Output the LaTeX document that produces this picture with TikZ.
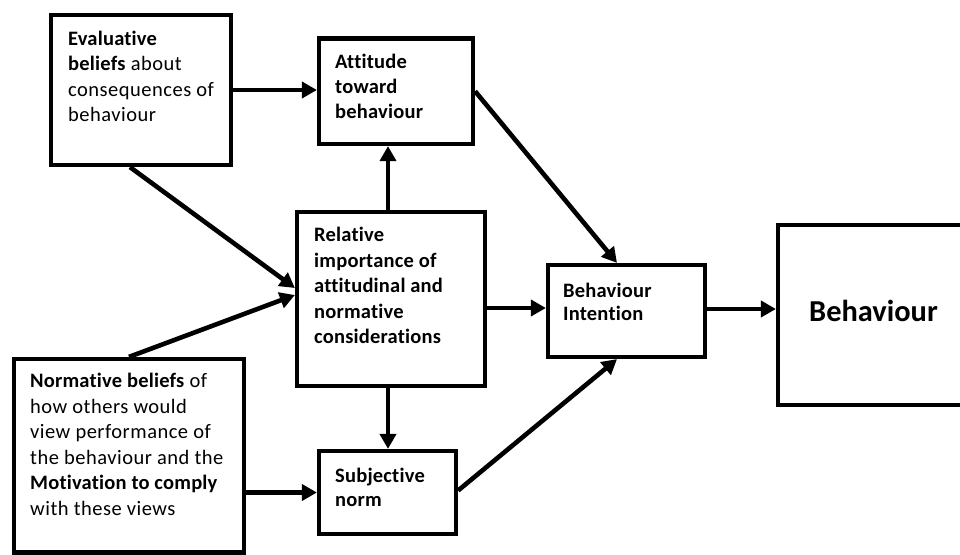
\documentclass[tikz,border=0pt]{standalone}
\usepackage{fontspec}
\setmainfont[Ligatures=CommonOff]{Carlito}
\newfontfamily\lsfont[LetterSpace=2.4,Ligatures=CommonOff,BoldFeatures={LetterSpace=1.0}]{Carlito}
\usetikzlibrary{arrows.meta}
\begin{document}
\begin{tikzpicture}[x=1pt,y=-1pt,
  box/.style={draw, line width=4.2pt, inner sep=0pt, fill=white},
  arr/.style={line width=4.6pt, -{Triangle[length=15pt,width=16pt]}},
  txt/.style={anchor=base west, align=left, inner sep=0pt, font=\lsfont\fontsize{20.5}{25.5}\selectfont},
  txtb/.style={anchor=base west, align=left, inner sep=0pt, font=\lsfont\fontsize{20.5}{23.6}\selectfont\bfseries},
]
\useasboundingbox[fill=white] (0,0) rectangle (960,554);

% boxes
\node[box, minimum width=180pt, minimum height=150pt] (b1) at (141,90) {};
\node[box, minimum width=154pt, minimum height=105.5pt] (b2) at (396,91.25) {};
\node[box, minimum width=188pt, minimum height=174pt] (b3) at (391,299) {};
\node[box, minimum width=157pt, minimum height=92pt] (b4) at (626.5,311) {};
\node[box, minimum width=190pt, minimum height=180pt] (b5) at (873,315) {};
\node[box, minimum width=230pt, minimum height=193.5pt] (b6) at (129,455.75) {};
\node[box, minimum width=137pt, minimum height=83pt] (b7) at (387.5,492.5) {};

% texts (anchored at the baseline of their last line)
\node[txt] (t1) at (68,121.5) {\textbf{Evaluative}\\\textbf{beliefs} about\\consequences of\\behaviour};
\node[txt, font=\lsfont\fontsize{20.5}{25}\selectfont\bfseries] (t2) at (335,118.3) {Attitude\\toward\\behaviour};
\node[txt, font=\lsfont\fontsize{20.5}{25.5}\selectfont\bfseries] (t3) at (314,343.7) {Relative\\importance of\\attitudinal and\\normative\\considerations};
\node[txtb] (t4) at (563,320.9) {Behaviour\\Intention};
\node[txt, font=\fontsize{30.4}{36}\selectfont\bfseries] (t5) at (809,321) {Behaviour};
\node[txt] (t6) at (30,515.2) {\textbf{Normative beliefs} of\\how others would\\view performance of\\the behaviour and the\\\textbf{Motivation to comply}\\with these views};
\node[txtb] (t7) at (335,506.3) {Subjective\\norm};

% connectors
\draw[arr] (b1.east) -- (b1.east -| b2.west);
\draw[arr] ([xshift=-3pt]b3.north) -- ([xshift=-3pt]b3.north |- b2.south);
\draw[arr] (b2.east) -- ([xshift=-9.5pt]b4.north);
\draw[arr] ([xshift=-11pt]b1.south) -- ([yshift=11pt]b3.west);
\draw[arr] (b6.north) -- ([yshift=4pt]b3.west);
\draw[arr] ([yshift=-9pt]b3.east) -- ([yshift=-9pt]b3.east -| b4.west);
\draw[arr] ([yshift=2pt]b4.east) -- ([yshift=2pt]b4.east -| b5.west);
\draw[arr] ([xshift=-3pt]b3.south) -- ([xshift=-3pt]b3.south |- b7.north);
\draw[arr] (b7.west -| b6.east) -- (b7.west);
\draw[arr] ([yshift=2pt]b7.east) -- ([xshift=-9.5pt]b4.south);
\end{tikzpicture}
\end{document}
